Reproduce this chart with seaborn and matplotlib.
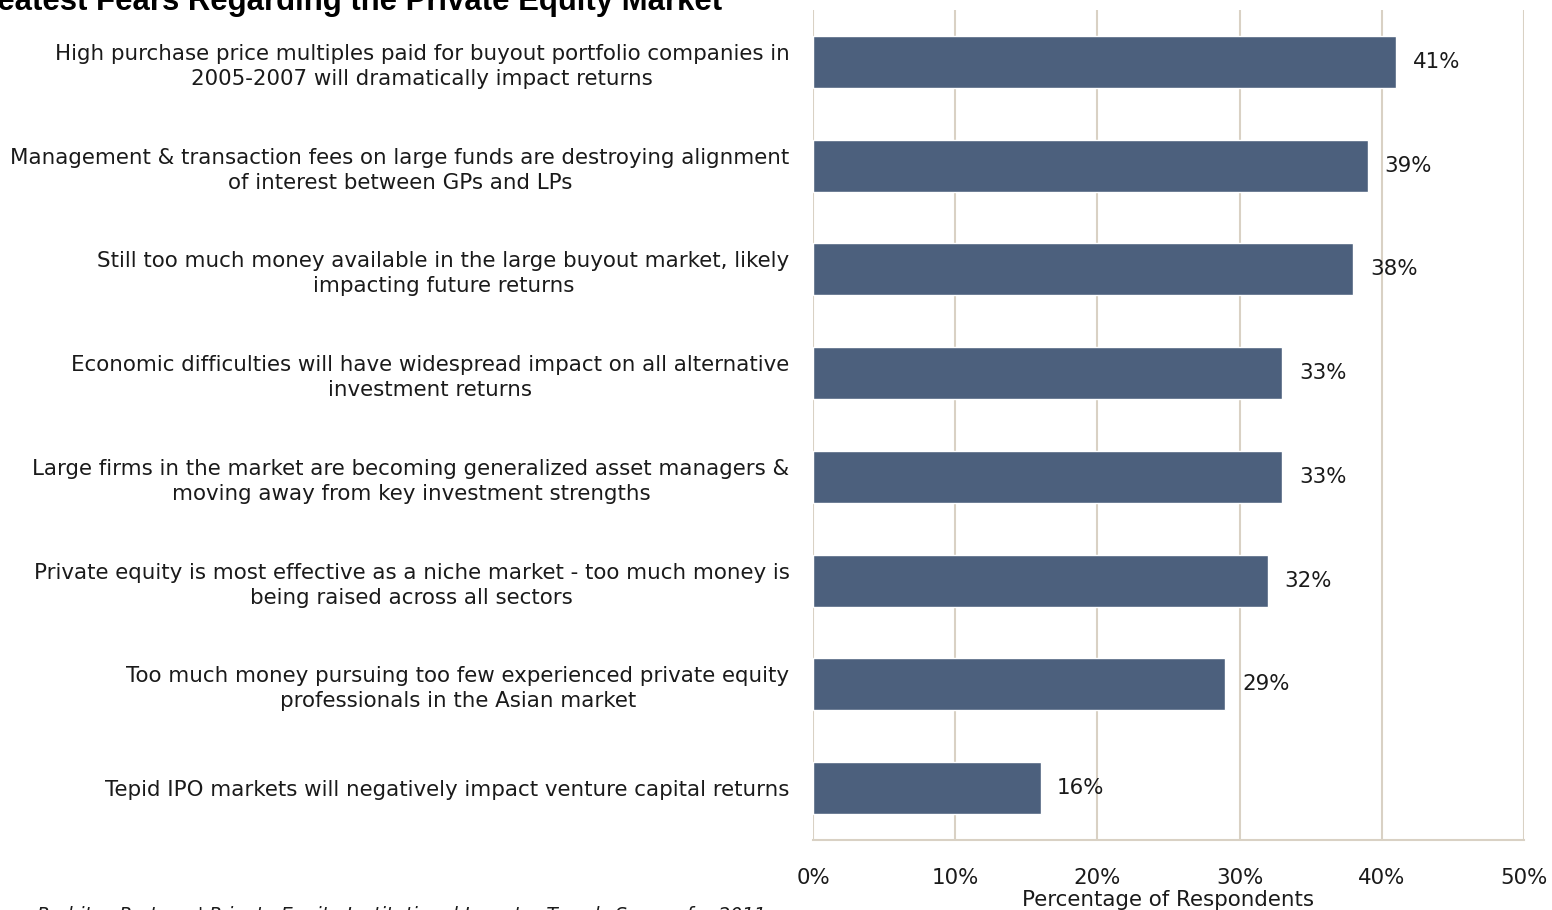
import matplotlib
matplotlib.use("Agg")
import matplotlib.pyplot as plt
import seaborn as sns
import pandas as pd
from matplotlib.ticker import FuncFormatter

# Survey responses: share of respondents citing each fear
fears = [
    "High purchase price multiples paid for buyout portfolio companies in\n2005-2007 will dramatically impact returns",
    "Management & transaction fees on large funds are destroying alignment\nof interest between GPs and LPs",
    "Still too much money available in the large buyout market, likely\nimpacting future returns",
    "Economic difficulties will have widespread impact on all alternative\ninvestment returns",
    "Large firms in the market are becoming generalized asset managers &\nmoving away from key investment strengths",
    "Private equity is most effective as a niche market - too much money is\nbeing raised across all sectors",
    "Too much money pursuing too few experienced private equity\nprofessionals in the Asian market",
    "Tepid IPO markets will negatively impact venture capital returns",
]
shares = [41, 39, 38, 33, 33, 32, 29, 16]
x_ticks = [0, 10, 20, 30, 40, 50]

title_text = "Greatest Fears Regarding the Private Equity Market"
source_text = "Probitas Partners' Private Equity Institutional Investor Trends Survey for 2011"
x_label = "Percentage of Respondents"

bar_color = "#4C607D"
grid_color = "#D9D1C4"
text_color = "#1A1A1A"
fs = 15.4

sns.set_theme(style="white")
plt.rcParams["font.family"] = ["DejaVu Sans"]

df = pd.DataFrame({"fear": fears, "share": shares})

fig = plt.figure(figsize=(15.52, 9.10), dpi=100)
ax = fig.add_axes([813 / 1552, 1 - 840 / 910, (1524 - 813) / 1552, 830 / 910])

sns.barplot(data=df, x="share", y="fear", orient="h", color=bar_color,
            width=0.5, saturation=1, ax=ax, zorder=3)

ax.set_xlim(0, 50)
ax.set_ylim(7.5, -0.5)
ax.set_xticks(x_ticks)
ax.xaxis.set_major_formatter(FuncFormatter(lambda v, _: f"{v:.0f}%"))
ax.grid(axis="x", color=grid_color, linewidth=1.5, zorder=0)
ax.grid(axis="y", visible=False)
ax.set_axisbelow(True)

for side in ["top", "right", "left"]:
    ax.spines[side].set_visible(False)
ax.spines["bottom"].set_color(grid_color)
ax.spines["bottom"].set_linewidth(1.5)

ax.tick_params(axis="x", length=0, pad=20, labelsize=fs, labelcolor=text_color)
ax.tick_params(axis="y", length=0, pad=17, labelsize=fs, labelcolor=text_color)
for lab in ax.get_yticklabels():
    lab.set_multialignment("center")
    lab.set_linespacing(1.32)

ax.set_ylabel("")
ax.set_xlabel(x_label, fontsize=fs, color=text_color, labelpad=1.5)

for cont in ax.containers:
    ax.bar_label(cont, labels=[f"{v}%" for v in shares], padding=12,
                 fontsize=fs, color=text_color)

fig.text(722 / 1552, 1 - 10 / 910, title_text, ha="right", va="baseline",
         fontsize=22.4, fontweight="bold", family="Liberation Sans", color="#000000")
fig.text(37 / 1552, 1 - 906 / 910, source_text, ha="left", va="top",
         fontsize=13.5, style="italic", color=text_color)

fig.savefig("out.png", dpi=100)
